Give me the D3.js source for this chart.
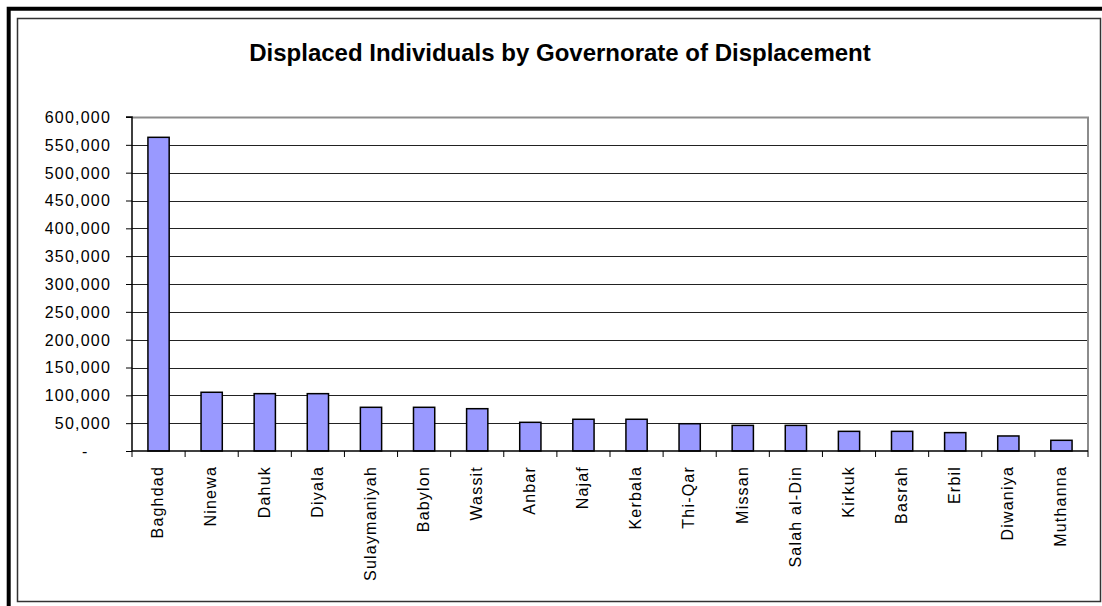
<!DOCTYPE html>
<html>
<head>
<meta charset="utf-8">
<script src="https://cdn.jsdelivr.net/npm/d3@7"></script>
<style>
  html, body { margin: 0; padding: 0; background: #fff; }
  svg { display: block; }
  text { font-family: "Liberation Sans", Arial, sans-serif; fill: #000; }
</style>
</head>
<body>
<svg id="chart" width="1102" height="606"></svg>
<script>
// Governorates, in the order they appear along the axis
const governorates = [
  "Baghdad", "Ninewa", "Dahuk", "Diyala", "Sulaymaniyah", "Babylon", "Wassit",
  "Anbar", "Najaf", "Kerbala", "Thi-Qar", "Missan", "Salah al-Din", "Kirkuk",
  "Basrah", "Erbil", "Diwaniya", "Muthanna"
];

// Displaced individuals per governorate
const displaced = [
  563500, 105500, 103000, 103000, 78500, 78500, 76000,
  51500, 57000, 57000, 49000, 46000, 46000, 35300,
  35300, 33000, 27000, 19200
];

// Value axis ticks
const yTicks = [0, 50000, 100000, 150000, 200000, 250000, 300000,
                350000, 400000, 450000, 500000, 550000, 600000];

const chartTitle = "Displaced Individuals by Governorate of Displacement";

const svg = d3.select("#chart");
const W = 1102, H = 606;
const plot = { left: 132, right: 1088, top: 117, bottom: 451 };

// Frame: heavy outer edge on top/left, thin inner box
svg.append("path")
  .attr("d", `M8.7,${H + 20}V8.7H${W + 20}`)
  .attr("fill", "none").attr("stroke", "#000").attr("stroke-width", 4);
svg.append("rect")
  .attr("x", 17.5).attr("y", 18.5).attr("width", 1083).attr("height", 583)
  .attr("fill", "#fff").attr("stroke", "#333").attr("stroke-width", 1.5);

// Title
svg.append("text")
  .attr("x", 560).attr("y", 61)
  .attr("text-anchor", "middle")
  .style("font-size", "24px").style("font-weight", "bold")
  .text(chartTitle);

// Scales
const slots = d3.scaleBand().domain(governorates)
  .range([plot.left, plot.right]).padding(0);
const x = d3.scaleBand().domain(governorates)
  .range([plot.left, plot.right]).paddingInner(0.6).paddingOuter(0.3);
const y = d3.scaleLinear().domain([0, 600000]).range([plot.bottom, plot.top]);

// Plot area background and horizontal gridlines
svg.append("rect")
  .attr("x", plot.left).attr("y", plot.top)
  .attr("width", plot.right - plot.left).attr("height", plot.bottom - plot.top)
  .attr("fill", "#fff");

svg.append("g").selectAll("line")
  .data(yTicks.filter(v => v > 0 && v < 600000))
  .join("line")
  .attr("x1", plot.left).attr("x2", plot.right)
  .attr("y1", d => Math.round(y(d)) + 0.5).attr("y2", d => Math.round(y(d)) + 0.5)
  .attr("stroke", "#222").attr("stroke-width", 1);

// Plot area border (grey)
svg.append("path")
  .attr("d", `M${plot.left},${plot.top + 0.5}H${plot.right}V${plot.bottom}`)
  .attr("fill", "none").attr("stroke", "#8c8c8c").attr("stroke-width", 2);

// Bars
svg.append("g").selectAll("rect")
  .data(governorates)
  .join("rect")
  .attr("x", d => x(d))
  .attr("y", (d, i) => y(displaced[i]))
  .attr("width", x.bandwidth())
  .attr("height", (d, i) => y(0) - y(displaced[i]))
  .attr("fill", "#9999ff")
  .attr("stroke", "#000").attr("stroke-width", 1.5);

// Y axis
const yAxis = d3.axisLeft(y)
  .tickValues(yTicks)
  .tickSize(6)
  .tickPadding(15)
  .tickFormat(v => v === 0 ? "-\u00a0\u00a0\u00a0\u00a0" : d3.format(",")(v));
const gy = svg.append("g")
  .attr("transform", `translate(${plot.left},0)`)
  .call(yAxis);
gy.select(".domain").attr("stroke", "#000").attr("stroke-width", 1.5)
  .attr("d", `M-6,${plot.top}H0V${plot.bottom}`);
gy.selectAll(".tick line").attr("stroke", "#000").attr("stroke-width", 1);
gy.selectAll(".tick text")
  .style("font-size", "16px").style("letter-spacing", "1.2px")
  .attr("dy", "0.34em").attr("fill", "#000")
  .style("white-space", "pre");

// X axis line and slot-boundary ticks
const gx = svg.append("g");
gx.append("line")
  .attr("x1", plot.left).attr("x2", plot.right)
  .attr("y1", plot.bottom).attr("y2", plot.bottom)
  .attr("stroke", "#000").attr("stroke-width", 1.5);
const edges = governorates.map(d => slots(d)).concat([plot.right]);
gx.selectAll("line.tick")
  .data(edges)
  .join("line")
  .attr("class", "tick")
  .attr("x1", d => d).attr("x2", d => d)
  .attr("y1", plot.bottom).attr("y2", plot.bottom + 6)
  .attr("stroke", "#000").attr("stroke-width", 1);

// Category labels, rotated
const xAxis = d3.axisBottom(x).tickSize(0).tickPadding(0);
const gl = svg.append("g")
  .attr("transform", `translate(0,${plot.bottom})`)
  .call(xAxis);
gl.select(".domain").remove();
gl.selectAll(".tick text")
  .style("font-size", "16px").style("letter-spacing", "1.2px")
  .attr("text-anchor", "end")
  .attr("transform", "translate(0,15) rotate(-90)")
  .attr("x", 0).attr("y", 0)
  .attr("dy", "0.3em")
  .attr("fill", "#000");
</script>
</body>
</html>
